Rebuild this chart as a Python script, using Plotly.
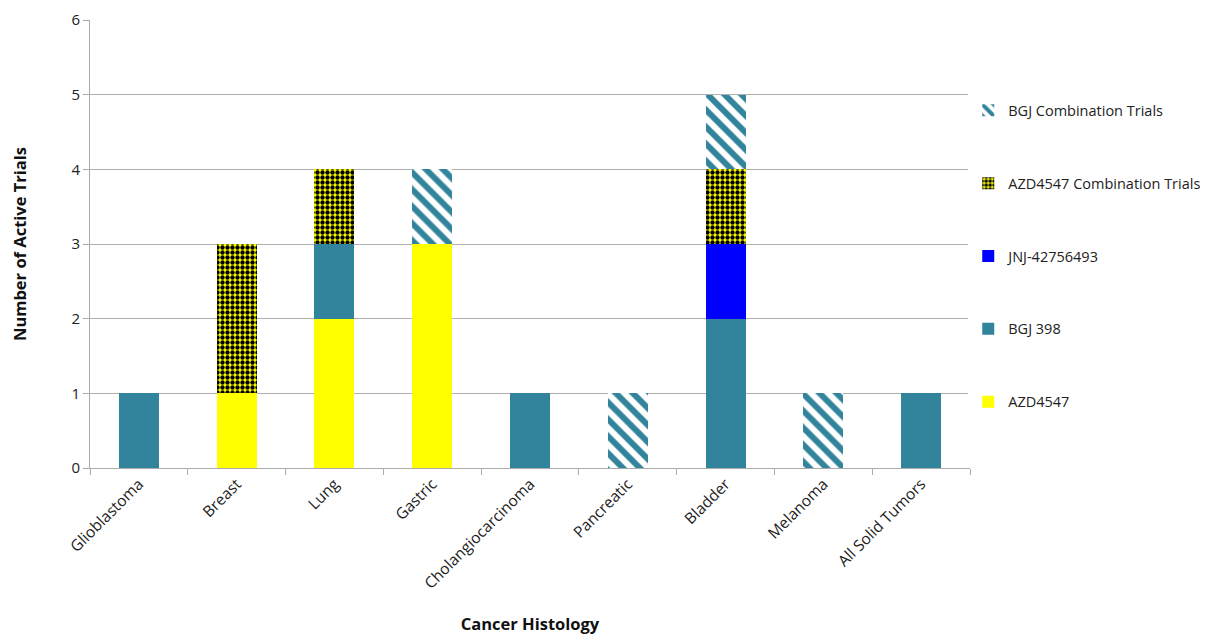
import plotly.graph_objects as go

categories = ["Glioblastoma", "Breast", "Lung", "Gastric", "Cholangiocarcinoma",
              "Pancreatic", "Bladder", "Melanoma", "All Solid Tumors"]
azd4547 = [0, 1, 2, 3, 0, 0, 0, 0, 0]
bgj398 = [1, 0, 1, 0, 1, 0, 2, 0, 1]
jnj = [0, 0, 0, 0, 0, 0, 1, 0, 0]
azd_combo = [0, 2, 1, 0, 0, 0, 1, 0, 0]
bgj_combo = [0, 0, 0, 1, 0, 1, 1, 1, 0]
y_ticks = [0, 1, 2, 3, 4, 5, 6]

TEAL = "#31849b"
YELLOW = "#ffff00"
BLUE = "#0000ff"
FONT = "Open Sans"

fig = go.Figure()
fig.add_trace(go.Bar(name="AZD4547", x=categories, y=azd4547, legendrank=5,
                     marker=dict(color=YELLOW, line=dict(width=0)), legendgroup="a"))
fig.add_trace(go.Bar(name="BGJ 398", x=categories, y=bgj398, legendrank=4,
                     marker=dict(color=TEAL, line=dict(width=0)), legendgroup="b"))
fig.add_trace(go.Bar(name="JNJ-42756493", x=categories, y=jnj, legendrank=3,
                     marker=dict(color=BLUE, line=dict(width=0)), legendgroup="c"))
fig.add_trace(go.Bar(name="AZD4547 Combination Trials", x=categories, y=azd_combo, legendrank=2,
                     marker=dict(color=YELLOW, line=dict(width=0),
                                 pattern=dict(shape=".", bgcolor=YELLOW, fgcolor="black",
                                              size=5, solidity=0.6, fillmode="overlay",
                                              fgopacity=1)),
                     legendgroup="d"))
fig.add_trace(go.Bar(name="BGJ Combination Trials", x=categories, y=bgj_combo, legendrank=1,
                     marker=dict(color="white", line=dict(width=0),
                                 pattern=dict(shape="\\", bgcolor="white", fgcolor=TEAL,
                                              size=12, solidity=0.5, fillmode="overlay",
                                              fgopacity=1)),
                     legendgroup="e"))

fig.update_layout(
    barmode="stack",
    bargap=0.59,
    width=1225, height=635,
    margin=dict(l=90, r=255, t=20, b=167, autoexpand=False),
    plot_bgcolor="white", paper_bgcolor="white",
    font=dict(family=FONT, size=14, color="#222"),
    legend=dict(x=0.998, y=0.834, xanchor="left", yanchor="top",
                traceorder="grouped", tracegroupgap=51, itemwidth=30,
                font=dict(family=FONT, size=14.5, color="#222")),
    xaxis=dict(
        automargin=False,
        title=dict(text="<b>Cancer Histology</b>", font=dict(family=FONT, size=16.5, color="#111"),
                   standoff=26),
        tickangle=-45, showline=True, linecolor="#aaaaaa", linewidth=1,
        ticks="outside", tickson="boundaries", tickcolor="#aaaaaa", ticklen=6,
        tickfont=dict(family=FONT, size=15.5, color="#222"),
    ),
    yaxis=dict(
        automargin=False,
        title=dict(text="<b>Number of Active Trials</b>", font=dict(family=FONT, size=16.5, color="#111"),
                   standoff=40),
        range=[0, 6], tickvals=y_ticks, showgrid=True, gridcolor="#b0b0b0", gridwidth=1,
        showline=True, linecolor="#aaaaaa", linewidth=1,
        ticks="outside", tickcolor="#aaaaaa", ticklen=6,
        tickfont=dict(family=FONT, size=15, color="#222"), zeroline=False,
    ),
)

fig.write_html("out.html")
